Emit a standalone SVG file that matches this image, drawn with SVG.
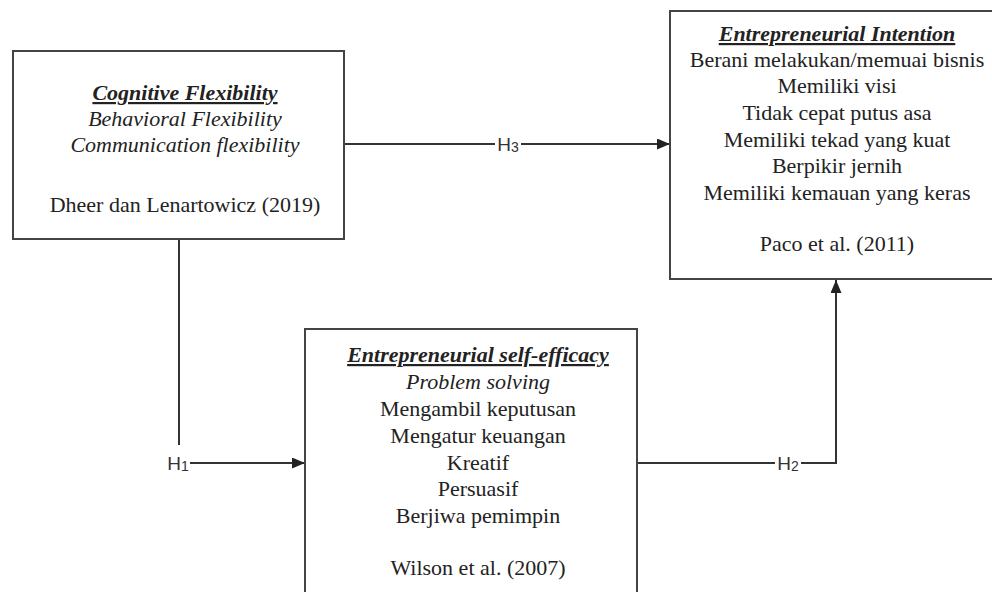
<svg xmlns="http://www.w3.org/2000/svg" width="992" height="592" viewBox="0 0 992 592">
<defs>
<marker id="arr" viewBox="0 0 13 11" refX="13" refY="5.5" markerWidth="13" markerHeight="11" markerUnits="userSpaceOnUse" orient="auto">
<path d="M0,0 L13,5.5 L0,11 Z" fill="#222"/>
</marker>
<style>
.box{fill:#fff;stroke:#444;stroke-width:2}
.t{font-family:"Liberation Serif","Times New Roman",serif;font-size:22px;fill:#222;text-anchor:middle}
.h{font-weight:bold;font-style:italic;text-decoration:underline}
.i{font-style:italic}
.ln{fill:none;stroke:#333;stroke-width:2}
.lb{font-family:"Liberation Sans",Arial,sans-serif;font-size:19px;fill:#333;text-anchor:middle}
.sub{font-size:14px}
</style>
</defs>
<rect width="992" height="592" fill="#fff"/>
<g id="connectors">
<polyline class="ln" points="179,239 179,445"/>
<line class="ln" x1="190" y1="463" x2="305" y2="463" marker-end="url(#arr)"/>
<line class="ln" x1="344" y1="144" x2="495" y2="144"/>
<line class="ln" x1="521" y1="144" x2="670" y2="144" marker-end="url(#arr)"/>
<line class="ln" x1="637" y1="463" x2="775" y2="463"/>
<polyline class="ln" points="801,463 836,463 836,280" marker-end="url(#arr)"/>
<text class="lb" x="178" y="470">H<tspan class="sub" dy="1">1</tspan></text>
<text class="lb" x="508" y="151">H<tspan class="sub" dy="1">3</tspan></text>
<text class="lb" x="788" y="470">H<tspan class="sub" dy="1">2</tspan></text>
</g>
<g id="cognitive-flexibility">
<rect class="box" x="13" y="51" width="331" height="188"/>
<text class="t h" x="185" y="100">Cognitive Flexibility</text>
<text class="t i" x="185" y="126">Behavioral Flexibility</text>
<text class="t i" x="185" y="152">Communication flexibility</text>
<text class="t" x="185" y="212">Dheer dan Lenartowicz (2019)</text>
</g>
<g id="entrepreneurial-intention">
<rect class="box" x="670" y="11" width="340" height="268"/>
<text class="t h" x="837" y="41">Entrepreneurial Intention</text>
<text class="t" x="837" y="67">Berani melakukan/memuai bisnis</text>
<text class="t" x="837" y="93">Memiliki visi</text>
<text class="t" x="837" y="120">Tidak cepat putus asa</text>
<text class="t" x="837" y="147">Memiliki tekad yang kuat</text>
<text class="t" x="837" y="173">Berpikir jernih</text>
<text class="t" x="837" y="200">Memiliki kemauan yang keras</text>
<text class="t" x="837" y="251">Paco et al. (2011)</text>
</g>
<g id="entrepreneurial-self-efficacy">
<rect class="box" x="305" y="329" width="332" height="280"/>
<text class="t h" x="478" y="362">Entrepreneurial self-efficacy</text>
<text class="t i" x="478" y="389">Problem solving</text>
<text class="t" x="478" y="416">Mengambil keputusan</text>
<text class="t" x="478" y="443">Mengatur keuangan</text>
<text class="t" x="478" y="470">Kreatif</text>
<text class="t" x="478" y="496">Persuasif</text>
<text class="t" x="478" y="523">Berjiwa pemimpin</text>
<text class="t" x="478" y="575">Wilson et al. (2007)</text>
</g>
</svg>
